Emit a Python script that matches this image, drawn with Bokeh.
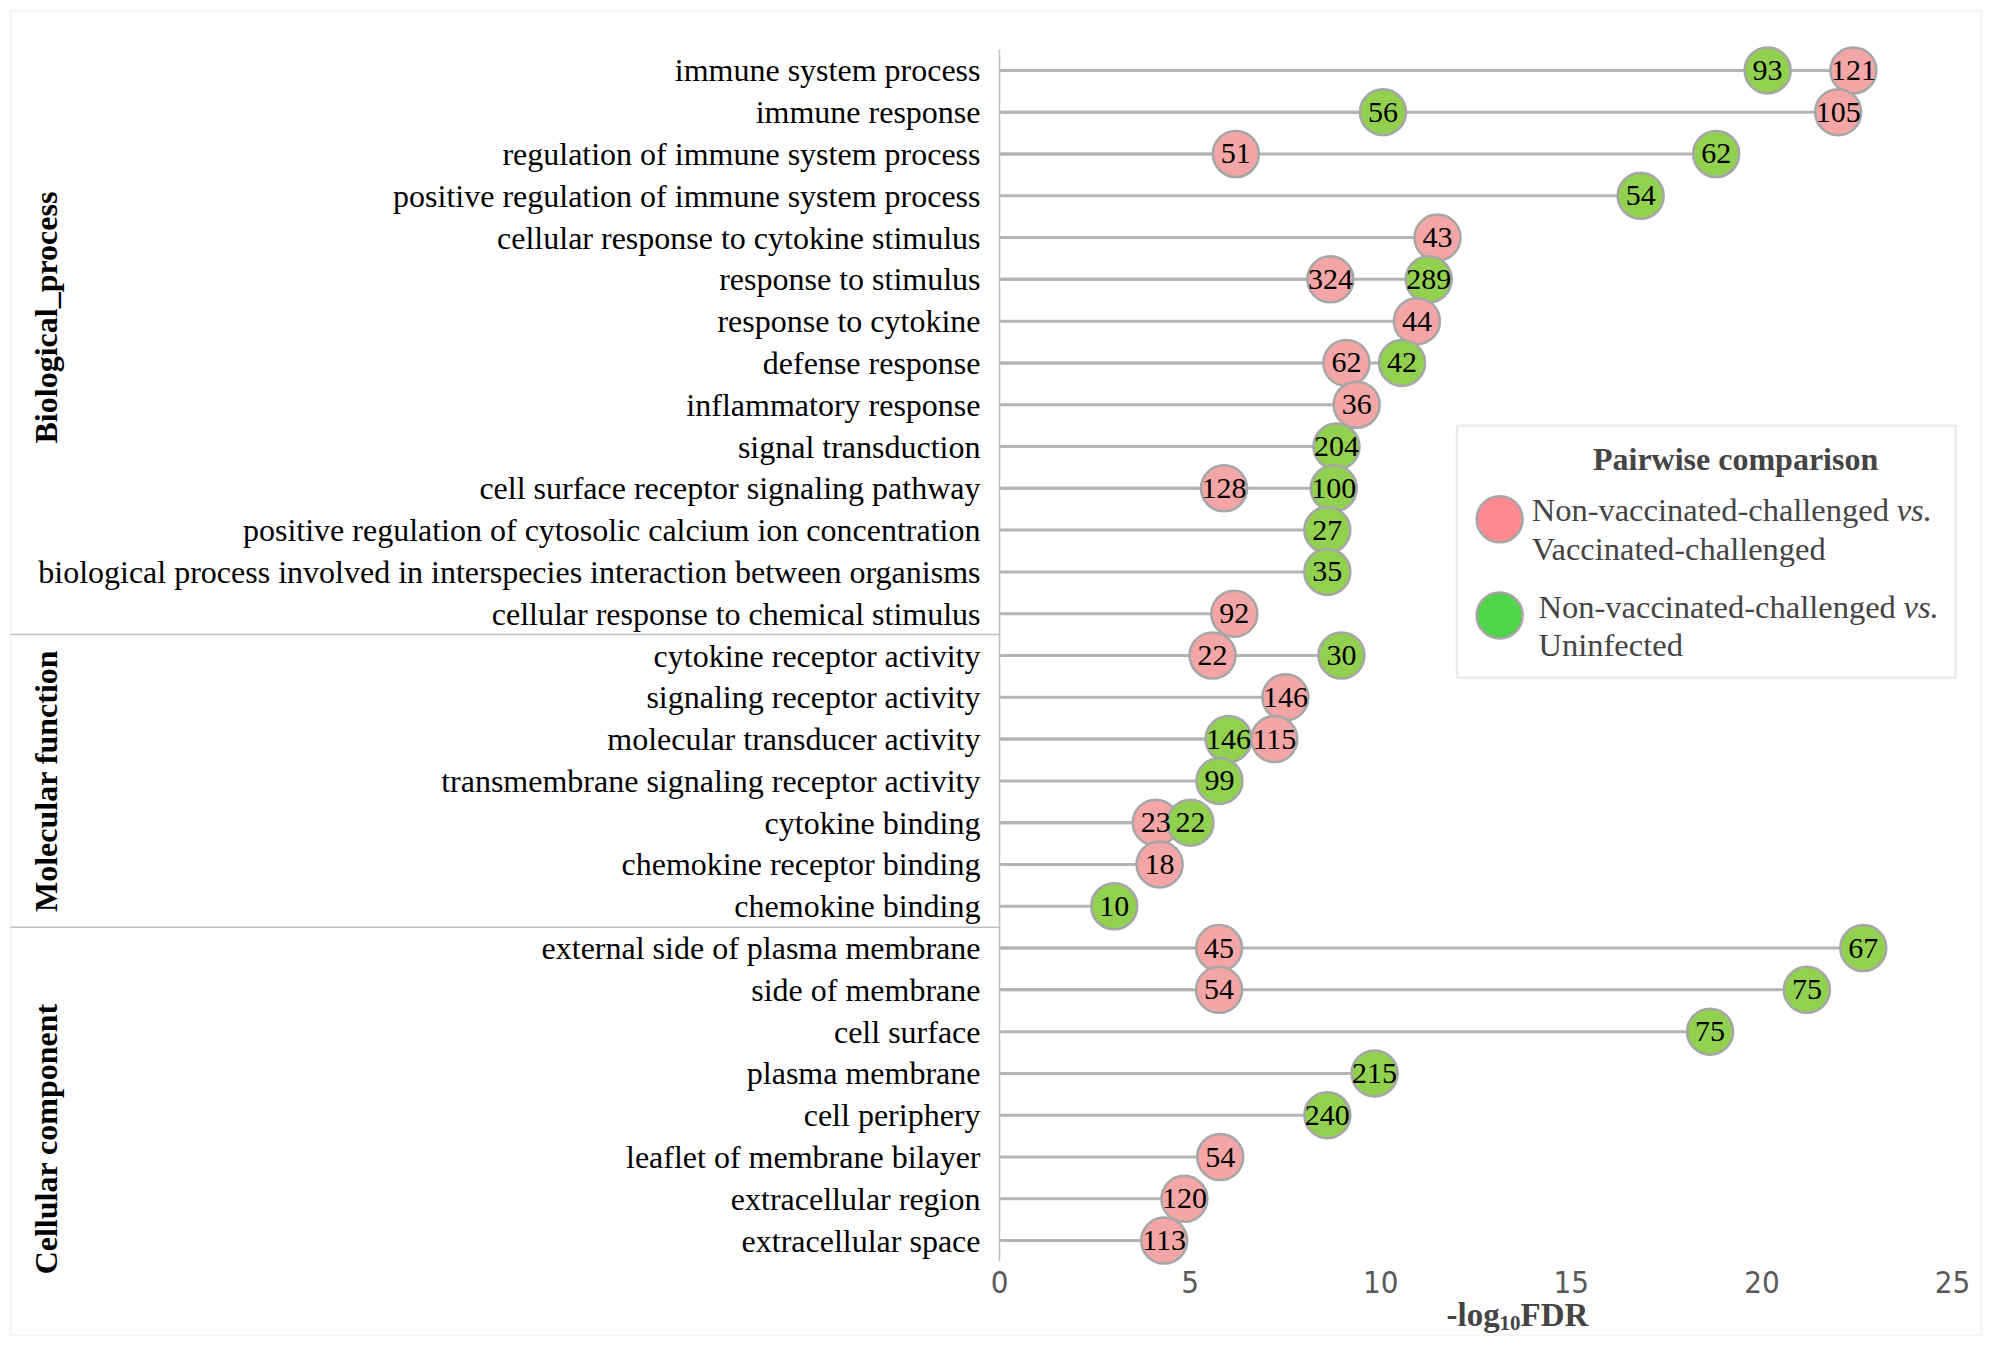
from math import pi
from bokeh.plotting import figure
from bokeh.models import Range1d, FixedTicker, Label, BoxAnnotation, Arrow
from bokeh.embed import file_html
from bokeh.resources import INLINE
from bokeh.core.properties import value

# ---------------- data ----------------
categories = [
    "immune system process",
    "immune response",
    "regulation of immune system process",
    "positive regulation of immune system process",
    "cellular response to cytokine stimulus",
    "response to stimulus",
    "response to cytokine",
    "defense response",
    "inflammatory response",
    "signal transduction",
    "cell surface receptor signaling pathway",
    "positive regulation of cytosolic calcium ion concentration",
    "biological process involved in interspecies interaction between organisms",
    "cellular response to chemical stimulus",
    "cytokine receptor activity",
    "signaling receptor activity",
    "molecular transducer activity",
    "transmembrane signaling receptor activity",
    "cytokine binding",
    "chemokine receptor binding",
    "chemokine binding",
    "external side of plasma membrane",
    "side of membrane",
    "cell surface",
    "plasma membrane",
    "cell periphery",
    "leaflet of membrane bilayer",
    "extracellular region",
    "extracellular space",
]
group_names = ["Biological_process", "Molecular function", "Cellular component"]
group_sizes = [14, 7, 8]

# Non-vaccinated-challenged vs. Vaccinated-challenged (pink)
vc_fdr = [22.40, 22.00, 6.20, None, 11.49, 8.68, 10.95, 9.10, 9.37, None,
          5.89, None, None, 6.16, 5.59, 7.50, 7.21, None, 4.10, 4.20,
          None, 5.76, 5.76, None, None, None, 5.79, 4.85, 4.32]
vc_genes = [121, 105, 51, None, 43, 324, 44, 62, 36, None,
            128, None, None, 92, 22, 146, 115, None, 23, 18,
            None, 45, 54, None, None, None, 54, 120, 113]
# Non-vaccinated-challenged vs. Uninfected (green)
un_fdr = [20.15, 10.06, 18.80, 16.82, None, 11.26, None, 10.56, None, 8.84,
          8.77, 8.60, 8.60, None, 8.97, None, 6.01, 5.77, 5.01, None,
          3.01, 22.66, 21.18, 18.64, 9.84, 8.60, None, None, None]
un_genes = [93, 56, 62, 54, None, 289, None, 42, None, 204,
            100, 27, 35, None, 30, None, 146, 99, 22, None,
            10, 67, 75, 75, 215, 240, None, None, None]

x_ticks = [0, 5, 10, 15, 20, 25]
legend_title = "Pairwise comparison"
legend_lines = [("Non-vaccinated-challenged ", "vs.", "Vaccinated-challenged"),
                ("Non-vaccinated-challenged ", "vs.", "Uninfected")]

# ---------------- style / layout ----------------
PINK = "#F4A6A6"
GREEN = "#92D050"
LEG_PINK = "#FF898E"
LEG_GREEN = "#50D449"
EDGE = "#A6A6A6"
SERIF = "Liberation Serif"

W, H = 1984, 1338
AX0, AX25 = 999, 1952          # pixel columns of x = 0 and x = 25
ROWTOP, ROWBOT = 49, 1261      # pixel rows of top / bottom of the category band
n = len(categories)
ppx = (AX25 - AX0) / 25.0      # pixels per x unit
ppy = (ROWBOT - ROWTOP) / n    # pixels per row

p = figure(width=W, height=H,
           x_range=Range1d(-AX0 / ppx, (W - AX0) / ppx),
           y_range=Range1d((ROWBOT - H) / ppy, ROWBOT / ppy),
           output_backend="svg", toolbar_location=None,
           min_border=0, min_border_left=0, min_border_right=0,
           min_border_top=0, min_border_bottom=0)
p.outline_line_color = None
p.xgrid.grid_line_color = None
p.ygrid.grid_line_color = None
p.background_fill_color = "white"
p.border_fill_color = "white"

row_y = [n - 1 - i + 0.5 for i in range(n)]

# x axis placed at the bottom of the category band
xa = p.xaxis[0]
xa.fixed_location = 0
xa.ticker = FixedTicker(ticks=x_ticks)
xa.axis_line_color = None
xa.major_tick_line_color = None
xa.minor_tick_line_color = None
xa.major_label_text_font = "Liberation Sans Narrow, DejaVu Sans Condensed, sans-serif"
xa.major_label_text_font_size = "31px"
xa.major_label_text_color = "#595959"
xa.major_label_standoff = 3

# y axis (category labels) placed at x = 0
ya = p.yaxis[0]
ya.fixed_location = 0
ya.bounds = (0, n)
ya.ticker = FixedTicker(ticks=row_y)
ya.major_label_overrides = {y: c for y, c in zip(row_y, categories)}
ya.axis_line_color = "#BFBFBF"
ya.axis_line_width = 1.5
ya.major_tick_line_color = None
ya.minor_tick_line_color = None
ya.major_tick_out = 0
ya.major_tick_in = 0
ya.major_label_text_font = SERIF
ya.major_label_text_font_size = "32px"
ya.major_label_text_color = "black"
ya.major_label_standoff = 19

# build lollipops: rows top to bottom, points in a row ordered by x
seg_y, seg_x1 = [], []
pt_x, pt_y, pt_c, pt_t = [], [], [], []
for i in range(n):
    pts = []
    if vc_fdr[i] is not None:
        pts.append((vc_fdr[i], PINK, str(vc_genes[i])))
    if un_fdr[i] is not None:
        pts.append((un_fdr[i], GREEN, str(un_genes[i])))
    pts.sort(key=lambda t: t[0])
    for xv, col, lab in pts:
        seg_y.append(row_y[i])
        seg_x1.append(xv)
        pt_x.append(xv)
        pt_y.append(row_y[i])
        pt_c.append(col)
        pt_t.append(lab)

p.segment(x0=[0] * len(seg_x1), y0=seg_y, x1=seg_x1, y1=seg_y,
          line_color="#B4B4B4", line_width=3)
p.scatter(x=pt_x, y=pt_y, marker="circle", size=46, fill_color=pt_c,
          line_color=EDGE, line_width=2.5)
p.text(x=pt_x, y=pt_y, text=pt_t, text_align="center", text_baseline="middle",
       text_font=value(SERIF), text_font_size="30px", text_color="black")

# outer border & group dividers
B_LEFT = (10 - AX0) / ppx
B_RIGHT = (W - 3 - AX0) / ppx
B_TOP = (ROWBOT - 10) / ppy
B_BOTTOM = (ROWBOT - (H - 3)) / ppy
p.add_layout(BoxAnnotation(left=B_LEFT, right=B_RIGHT, top=B_TOP, bottom=B_BOTTOM,
                           fill_color=None, line_color="#D9D9D9", line_width=2))

bounds = [n]
for s in group_sizes:
    bounds.append(bounds[-1] - s)
for b in bounds[1:-1]:
    p.add_layout(Arrow(end=None, x_start=B_LEFT, y_start=b, x_end=0, y_end=b,
                       line_color="#BFBFBF", line_width=1.5))
REF_BOTTOM = (ROWBOT - 1350) / ppy
edges = [ROWBOT / ppy] + bounds[1:-1] + [REF_BOTTOM]
X_GROUP = (45 - AX0) / ppx
for gi, name in enumerate(group_names):
    yc = (edges[gi] + edges[gi + 1]) / 2.0
    p.add_layout(Label(x=X_GROUP, y=yc, text=name, angle=pi / 2,
                       text_align="center", text_baseline="middle",
                       text_font=SERIF, text_font_style="bold",
                       text_font_size="32px", text_color="black"))

# axis title  -log10FDR
TY = (ROWBOT - 1314) / ppy
TX = (1446 - AX0) / ppx
p.add_layout(Label(x=TX, y=TY, text="-log", text_align="left", text_baseline="middle",
                   text_font=SERIF, text_font_style="bold", text_font_size="33px"))
p.add_layout(Label(x=TX, y=TY, x_offset=53, y_offset=-8, text="10", text_align="left",
                   text_baseline="middle", text_font=SERIF, text_font_style="bold",
                   text_font_size="21px"))
p.add_layout(Label(x=TX, y=TY, x_offset=74, text="FDR", text_align="left",
                   text_baseline="middle", text_font=SERIF, text_font_style="bold",
                   text_font_size="33px"))

# legend
p.add_layout(BoxAnnotation(left=12.0, right=25.08, top=20.0, bottom=13.97,
                           fill_color=None, line_color="#BFBFBF", line_width=2.5))
p.add_layout(Label(x=19.31, y=19.19, text=legend_title, text_align="center",
                   text_baseline="middle", text_font=SERIF, text_font_style="bold",
                   text_font_size="32px"))
p.scatter(x=[13.12, 13.12], y=[17.76, 15.46], marker="circle", size=46,
          fill_color=[LEG_PINK, LEG_GREEN], line_color=EDGE, line_width=2.5)
leg_pos = [(13.96, 17.99, 17.06), (14.14, 15.67, 14.76)]
for (l1, vs, l2), (lx, y1, y2) in zip(legend_lines, leg_pos):
    p.add_layout(Label(x=lx, y=y1, text=l1, text_align="left", text_baseline="middle",
                       text_font=SERIF, text_font_size="32.5px"))
    p.add_layout(Label(x=lx, y=y1, x_offset=365, text=vs, text_align="left",
                       text_baseline="middle", text_font=SERIF, text_font_style="italic",
                       text_font_size="32.5px"))
    p.add_layout(Label(x=lx, y=y2, text=l2, text_align="left", text_baseline="middle",
                       text_font=SERIF, text_font_size="32.5px"))

open("out.html", "w").write(file_html(p, INLINE))
